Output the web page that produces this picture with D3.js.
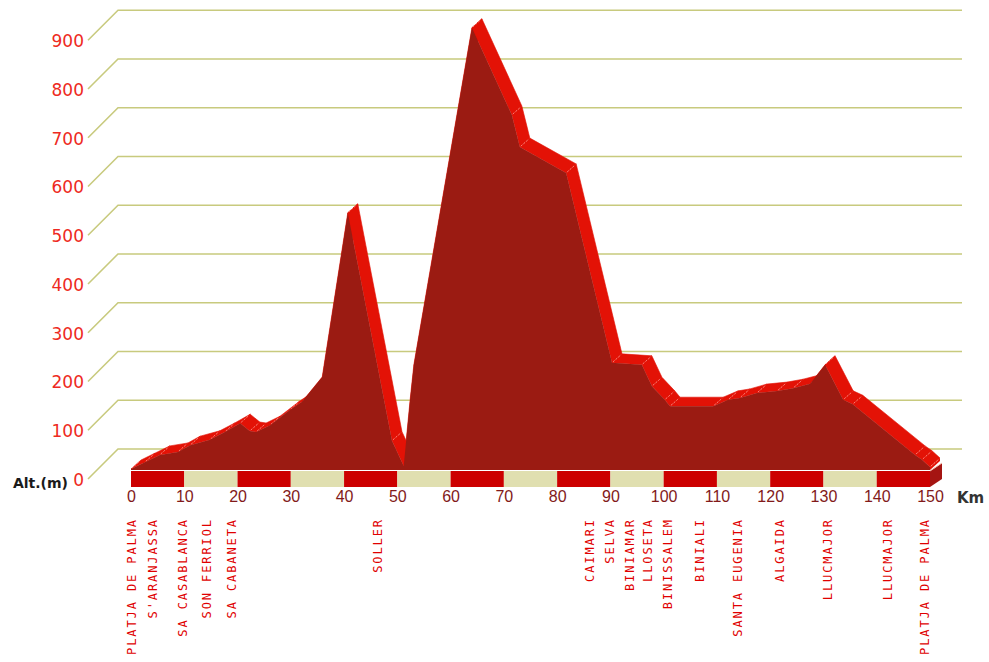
<!DOCTYPE html>
<html><head><meta charset="utf-8">
<script src="https://cdn.jsdelivr.net/npm/d3@7"></script>
<style>body{margin:0;background:#fff}svg{display:block}</style>
</head><body>
<svg id="c" width="989" height="662"></svg>
<script>
// ---- data ----
const profileKm  = [0, 2.6, 5.4, 8.8, 11.1, 14.8, 17.6, 20.5, 22.3, 23.5, 26.1, 29.8, 32.1, 35.9, 40.7, 49.0, 51.2, 52.4, 53.1, 64.0, 71.5, 73.0, 81.7, 90.3, 95.9, 97.8, 100.2, 101.2, 109.3, 112.1, 114.3, 117.5, 121.3, 124.3, 127.5, 130.3, 133.7, 135.5, 147.2, 148.5, 150];
const profileAlt = [2, 16, 31, 37, 51, 62, 78, 96, 80, 78, 92, 123, 140, 191, 528, 60, 8, 144, 216, 908, 729, 663, 610, 220, 216, 172, 144, 131, 131, 144, 148, 158, 162, 168, 177, 216, 144, 135, 31, 21, 6];
const xTicks = [0, 10, 20, 30, 40, 50, 60, 70, 80, 90, 100, 110, 120, 130, 140, 150];
const yTicks = [0, 100, 200, 300, 400, 500, 600, 700, 800, 900];
const placeNames = ["PLATJA DE PALMA", "S'ARANJASSA", "SA CASABLANCA", "SON FERRIOL", "SA CABANETA", "SOLLER", "CAIMARI", "SELVA", "BINIAMAR", "LLOSETA", "BINISSALEM", "BINIALI", "SANTA EUGENIA", "ALGAIDA", "LLUCMAJOR", "LLUCMAJOR", "PLATJA DE PALMA"];
const placeKm = [0.1, 4.1, 9.8, 14.3, 19.0, 46.4, 86.2, 89.9, 93.7, 97.0, 100.8, 106.8, 113.9, 121.8, 130.8, 142.1, 149.0];

// ---- layout ----
const svg = d3.select("#c");
const x = d3.scaleLinear().domain([0, 150]).range([131, 930]);
const yFront = d3.scaleLinear().domain([0, 900]).range([470, 470 - 0.487 * 900]);
const yGrid = d3.scaleLinear().domain([0, 900]).range([449, 10.25]);
const yLab = d3.scaleLinear().domain([0, 900]).range([480, 41.25]);
const OX = 10, OY = -9;
const gridCol = "#c8ca7e", dark = "#9b1b12", bright = "#e31206";

// grid
const grid = svg.append("g");
yTicks.forEach(v => {
  grid.append("path")
    .attr("d", `M88,${yLab(v) - 1}L118,${yGrid(v)}L962,${yGrid(v)}`)
    .attr("fill", "none").attr("stroke", gridCol).attr("stroke-width", 1.6);
});

// profile points
const pts = profileKm.map((k, i) => [x(k), yFront(profileAlt[i])]);
const g = svg.append("g");
// end cap (right) of extrusion
const last = pts[pts.length - 1];
g.append("polygon")
  .attr("points", [[last[0], last[1]], [last[0] + OX, last[1] + OY], [last[0] + OX, yFront(0) + OY], [last[0], yFront(0)]].join(" "))
  .attr("fill", bright);
// top surfaces
for (let i = 0; i < pts.length - 1; i++) {
  const a = pts[i], b = pts[i + 1];
  g.append("polygon")
    .attr("points", [a, b, [b[0] + OX, b[1] + OY], [a[0] + OX, a[1] + OY]].join(" "))
    .attr("fill", bright).attr("stroke", bright).attr("stroke-width", 0.6);
}
// vertex edges
pts.forEach(p => {
  g.append("line").attr("x1", p[0] + 1).attr("y1", p[1] - 1).attr("x2", p[0] + OX - 1).attr("y2", p[1] + OY + 1)
    .attr("stroke", "#ff9a90").attr("stroke-width", 0.8).attr("stroke-dasharray", "2,1.5");
});
// front face
const area = d3.area().x((d, i) => x(profileKm[i])).y0(yFront(0)).y1((d, i) => yFront(profileAlt[i]));
g.append("path").datum(profileKm).attr("d", area).attr("fill", dark);

// km strip
const strip = svg.append("g");
xTicks.slice(0, -1).forEach((k, i) => {
  strip.append("rect").attr("x", x(k)).attr("y", 471).attr("width", x(k + 10) - x(k)).attr("height", 16)
    .attr("fill", i % 2 === 0 ? "#cc0000" : "#e0dfb0");
});
strip.append("polygon")
  .attr("points", [[x(150), 471], [x(150) + 12, 463], [x(150) + 12, 479], [x(150), 487]].join(" "))
  .attr("fill", "#a51512");
strip.append("line").attr("x1", x(150)).attr("y1", 471).attr("x2", x(150) + 12).attr("y2", 463)
  .attr("stroke", "#f4c0b0").attr("stroke-width", 1);

// y labels
const yAxis = svg.append("g").attr("transform", "translate(84,0)")
  .call(d3.axisLeft(yLab).tickValues(yTicks).tickSize(0).tickPadding(0));
yAxis.select(".domain").remove();
yAxis.selectAll("text").attr("fill", "#ee2a22").style("font", "17px 'DejaVu Sans'");

svg.append("text").attr("x", 68).attr("y", 488).attr("text-anchor", "end")
  .style("font", "bold 14px 'DejaVu Sans'").attr("fill", "#1a1a1a").text("Alt.(m)");

// x labels
const xAxis = svg.append("g").attr("transform", "translate(0,491)")
  .call(d3.axisBottom(x).tickValues(xTicks).tickSize(0).tickPadding(0));
xAxis.select(".domain").remove();
xAxis.selectAll("text").attr("fill", "#821a1a").style("font", "16px 'Liberation Sans'");

svg.append("text").attr("x", 957).attr("y", 503)
  .style("font", "bold 15px 'DejaVu Sans'").attr("fill", "#333").text("Km");

// place labels
const pl = svg.append("g");
placeNames.forEach((n, i) => {
  const px = x(placeKm[i]);
  pl.append("text")
    .attr("transform", `translate(${px},518) rotate(-90)`)
    .attr("text-anchor", "end").attr("dominant-baseline", "central")
    .style("font", "12px 'DejaVu Sans Mono'").style("letter-spacing", "1.9px")
    .attr("fill", "#e00000").text(n);
});
</script>
</body></html>
